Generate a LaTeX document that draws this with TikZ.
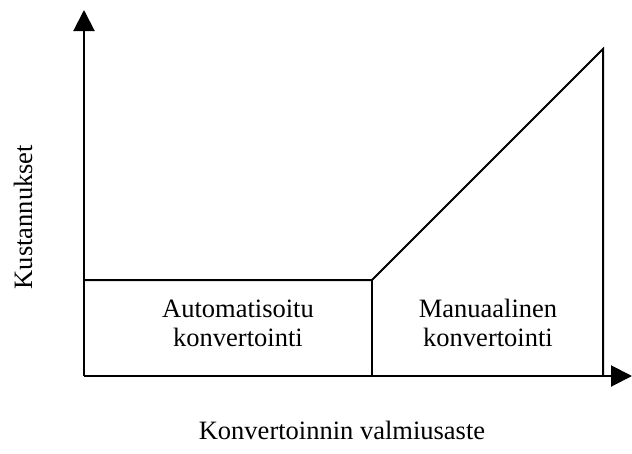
\documentclass[tikz,border=0pt]{standalone}
\usepackage{fontspec}
\setmainfont{Liberation Serif}
\usetikzlibrary{arrows.meta}
\begin{document}
\begin{tikzpicture}[x=1pt,y=-1pt,
  axis/.style={line width=2pt,-{Triangle[length=21pt,width=21pt]}},
  edge/.style={line width=2pt},
  label/.style={font=\fontsize{26.5}{29}\selectfont,align=center,inner sep=0pt}]
  \useasboundingbox (0,0) rectangle (632,453);
  % axis corners and curve points
  \coordinate (O) at (84,376);
  \coordinate (ytop) at (84,10);
  \coordinate (xend) at (632,376);
  \coordinate (bl) at (84,280);
  \coordinate (br) at (372,280);
  \coordinate (bb) at (372,376);
  \coordinate (peak) at (603,49);
  \coordinate (pb) at (603,376);
  % axes
  \draw[axis] (O) -- (ytop);
  \draw[axis] (O) -- (xend);
  % cost curve
  \draw[edge,line join=miter] (bl) -- (br) -- (peak) -- (pb);
  \draw[edge] (br) -- (bb);
  % labels
  \node[label] (auto) at (238,323) {Automatisoitu\\konvertointi};
  \node[label] (manu) at (488,323) {Manuaalinen\\konvertointi};
  \node[label,rotate=90] (ylab) at (23,217) {Kustannukset};
  \node[label] (xlab) at (342,430) {Konvertoinnin valmiusaste};
\end{tikzpicture}
\end{document}
